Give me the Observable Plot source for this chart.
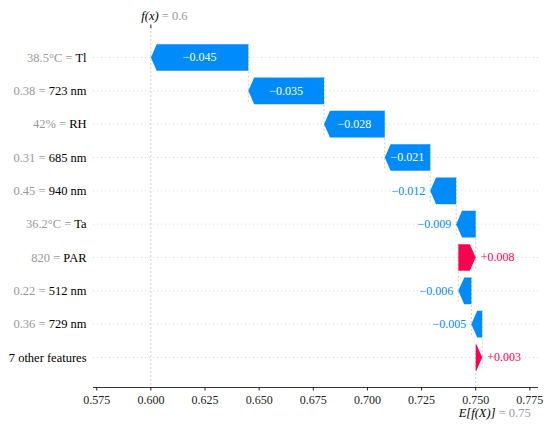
<!DOCTYPE html>
<html><head><meta charset="utf-8">
<script src="https://cdn.jsdelivr.net/npm/d3@7"></script>
<script src="https://cdn.jsdelivr.net/npm/@observablehq/plot@0.6"></script>
<style>body{margin:0;background:#fff}</style>
</head><body><div id="chart"></div>
<script>
// ---- data ----
const features = ["Tl", "723 nm", "RH", "685 nm", "940 nm", "Ta", "PAR", "512 nm", "729 nm", "7 other features"];
const featureValues = ["38.5\u00B0C", "0.38", "42%", "0.31", "0.45", "36.2\u00B0C", "820", "0.22", "0.36", ""];
const shapValues = [-0.045, -0.035, -0.028, -0.021, -0.012, -0.009, 0.008, -0.006, -0.005, 0.003];
const baseValue = 0.75;
const xTicks = [0.575, 0.600, 0.625, 0.650, 0.675, 0.700, 0.725, 0.750, 0.775];

// ---- styling ----
const blue = "#008bfb", red = "#ff0051";
const headLen = 0.0027, halfH = 0.4, insideMin = 0.016;
const font = "Liberation Serif";

// cumulative waterfall from the base value upward
const rows = [];
let cur = baseValue;
for (let i = features.length - 1; i >= 0; i--) {
  const start = cur, end = cur + shapValues[i];
  rows[i] = {i, name: features[i], fv: featureValues[i], v: shapValues[i], start, end,
             color: shapValues[i] >= 0 ? red : blue};
  cur = end;
}
const fx = +cur.toFixed(6);

const verts = rows.flatMap(r => {
  const d = Math.sign(r.end - r.start), w = Math.abs(r.v);
  const b = r.start + d * Math.max(w - headLen, 0);
  return [[r.start, r.i - halfH], [b, r.i - halfH], [r.end, r.i], [b, r.i + halfH], [r.start, r.i + halfH]]
    .map(([x, y]) => ({x, y, key: r.i, color: r.color}));
});
const fmt = d => (d.v < 0 ? "\u2212" : "+") + Math.abs(d.v).toFixed(3);
const inside = rows.filter(d => Math.abs(d.v) >= insideMin);
const outNeg = rows.filter(d => Math.abs(d.v) < insideMin && d.v < 0);
const outPos = rows.filter(d => Math.abs(d.v) < insideMin && d.v >= 0);
const yDom = [-0.9, features.length - 0.1];
const T = {fontFamily: font};

const plot = Plot.plot({
  width: 550, height: 426,
  marginLeft: 93, marginRight: 12, marginTop: 27, marginBottom: 39,
  x: {domain: [0.5735, 0.779]},
  y: {domain: yDom, reverse: true, axis: null},
  marks: [
    Plot.ruleY(rows, {y: "i", stroke: "#c8c8c8", strokeWidth: 0.7, strokeDasharray: "1,3"}),
    Plot.ruleX([fx], {stroke: "#bbb", strokeWidth: 0.7, strokeDasharray: "2,2"}),
    Plot.ruleX([baseValue], {y1: yDom[1], y2: yDom[1] - (yDom[1] - yDom[0]) / features.length, stroke: "#bbb", strokeWidth: 0.7, strokeDasharray: "2,2"}),
    Plot.ruleX(rows.slice(0, -1), {x: "start", y1: d => d.i - halfH, y2: d => d.i + 1 + halfH, stroke: "#bbb", strokeWidth: 0.7, strokeDasharray: "2,2"}),
    Plot.line(verts, {x: "x", y: "y", z: "key", fill: "color", stroke: "none"}),
    Plot.text(inside, {...T, x: d => (d.start + d.end) / 2, y: "i", text: fmt, fill: "white", fontSize: 12}),
    Plot.text(outNeg, {...T, x: "end", y: "i", text: fmt, fill: "color", fontSize: 12, textAnchor: "end", dx: -5}),
    Plot.text(outPos, {...T, x: "end", y: "i", text: fmt, fill: "color", fontSize: 12, textAnchor: "start", dx: 5}),
    Plot.text(rows, {...T, y: "i", frameAnchor: "left", dx: -7, textAnchor: "end", text: "name", fontSize: 12.5,
                     ariaLabel: d => "ylab:" + d.i}),
    Plot.ruleY([yDom[1]], {stroke: "#333", strokeWidth: 1}),
    Plot.axisX(xTicks, {...T, tickSize: 3.5, tickPadding: 4, tickFormat: ".3f", fontSize: 12, color: "#222", label: null}),
    Plot.axisX([fx], {anchor: "top", tickSize: 3.5, tickFormat: () => "", color: "#222", label: null}),
    Plot.text([fx], {...T, x: d => d, frameAnchor: "top", dy: -16, dx: 13.5, text: () => "fx", fontSize: 12.5, ariaLabel: () => "fxlab"}),
    Plot.text([baseValue], {...T, x: d => d, frameAnchor: "bottom", dy: 29, dx: 19, text: () => "ef", fontSize: 12.5, ariaLabel: () => "eflab"})
  ]
});
plot.setAttribute("font-family", font);

// rich (two-colour / italic) text
const fmtNum = v => String(+v.toFixed(3));
d3.select(plot).selectAll("text[aria-label]").each(function () {
  const lab = this.getAttribute("aria-label");
  let parts = null;
  if (lab.startsWith("ylab:")) {
    const r = rows[+lab.slice(5)];
    parts = r.fv ? [{t: r.fv + " = ", c: "#999"}, {t: r.name, c: "#000"}] : [{t: r.name, c: "#000"}];
  } else if (lab === "fxlab") {
    parts = [{t: "f(x)", c: "#000", it: true}, {t: " = " + fmtNum(fx), c: "#999"}];
  } else if (lab === "eflab") {
    parts = [{t: "E[f(X)]", c: "#000", it: true}, {t: " = " + fmtNum(baseValue), c: "#999"}];
  }
  if (!parts) return;
  const el = d3.select(this);
  el.text(null);
  for (const p of parts) el.append("tspan").attr("fill", p.c).attr("font-style", p.it ? "italic" : null).text(p.t);
});

document.getElementById("chart").append(plot);
</script>
</body></html>
